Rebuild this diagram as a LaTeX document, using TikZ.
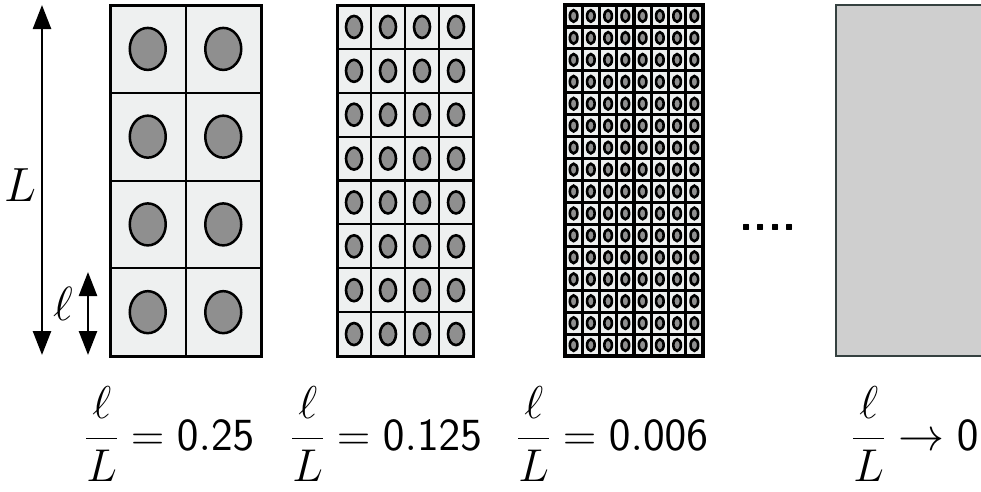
\RequirePackage{fix-cm}
\documentclass[tikz,border=0pt]{standalone}
\usepackage{amsmath}
\usepackage{tikz}
\usetikzlibrary{arrows.meta, positioning}

\definecolor{cellfill}{HTML}{EEF0F0}
\definecolor{grainfill}{HTML}{8F8F8F}
\definecolor{plainfill}{HTML}{CFCFCF}
\definecolor{edgegray}{HTML}{354140}

\begin{document}
\begin{tikzpicture}[
    x=1pt, y=-1pt,
    cell/.style={draw, fill=cellfill},
    grain/.style={draw, fill=grainfill},
    dimarr/.style={{Triangle[length=24pt,width=18pt]}-{Triangle[length=24pt,width=18pt]}, line width=2.5pt},
    lenlbl/.style={inner sep=0pt, font=\fontsize{48}{52}\selectfont},
    ratio/.style={anchor=base west, inner sep=0pt, font=\fontsize{46}{50}\selectfont}
]
\useasboundingbox (0,0) rectangle (981,491);

% Length arrows
\coordinate (Ltop) at (42,5);
\coordinate (Lbot) at (42,355);
\draw[dimarr] (Lbot) -- (Ltop);
\node[lenlbl] (Llab) at (20,185) {$L$};

\coordinate (ltop) at (88,272);
\coordinate (lbot) at (88,355);
\draw[dimarr] (lbot) -- (ltop);
\node[lenlbl] (llab) at (63,304) {$\ell$};

% Coarse cells: 2 x 4
\foreach \i in {0,1} \foreach \j in {0,...,3} {
  \draw[cell, line width=2pt] (110+75.5*\i, 5+87.75*\j) rectangle ++(75.5,87.75);
  \draw[grain, line width=2.5pt] (147.75+75.5*\i, 48.9+87.75*\j) ellipse (18pt and 21pt);
}
\draw[line width=3pt] (110,5) rectangle (261,356);

% Finer cells: 4 x 8
\foreach \i in {0,...,3} \foreach \j in {0,...,7} {
  \draw[cell, line width=2.2pt] (337+34*\i, 5+43.875*\j) rectangle ++(34,43.875);
  \draw[grain, line width=2.6pt] (354+34*\i, 26.94+43.875*\j) ellipse (8pt and 11pt);
}
\draw[line width=3pt] (337,5) rectangle (473,356);

% Finest cells: 8 x 16
\foreach \i in {0,...,7} \foreach \j in {0,...,15} {
  \draw[cell, line width=3.2pt] (565+17.25*\i, 5+21.94*\j) rectangle ++(17.25,21.94);
  \draw[grain, line width=2.6pt] (573.6+17.25*\i, 15.97+21.94*\j) ellipse (3.8pt and 5.8pt);
}
\draw[line width=3.5pt] (565,5) rectangle (703,356);

\node[inner sep=0pt, font=\fontsize{46}{50}\sffamily\bfseries] (dots) at (768,227) {....};

% Homogeneous limit
\fill[plainfill] (836,5) rectangle (981,356);
\draw[draw=edgegray, line width=2.5pt] (981,5) -- (836,5) -- (836,356) -- (981,356);

% Ratios
\node[ratio] (r1) at (85,450) {$\dfrac{\ell}{L} = \mathsf{0.25}$};
\node[ratio] (r2) at (291,450) {$\dfrac{\ell}{L} = \mathsf{0.125}$};
\node[ratio] (r3) at (517,450) {$\dfrac{\ell}{L} = \mathsf{0.006}$};
\node[ratio] (r4) at (852,450) {$\dfrac{\ell}{L} \to \mathsf{0}$};

\end{tikzpicture}
\end{document}
